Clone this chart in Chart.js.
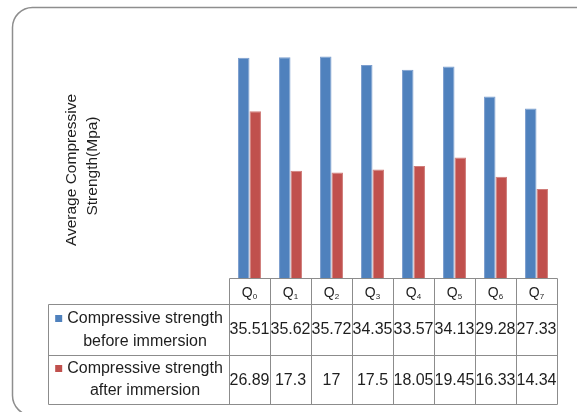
<!DOCTYPE html>
<html>
<head>
<meta charset="utf-8">
<script src="https://cdn.jsdelivr.net/npm/chart.js@4/dist/chart.umd.min.js"></script>
<style>
html,body{margin:0;padding:0;background:#fff;}
canvas{display:block;}
</style>
</head>
<body>
<canvas id="c" width="577" height="412"></canvas>
<script>
const categories = ['Q0','Q1','Q2','Q3','Q4','Q5','Q6','Q7'];
const beforeValues = [35.51, 35.62, 35.72, 34.35, 33.57, 34.13, 29.28, 27.33];
const afterValues = [26.89, 17.3, 17, 17.5, 18.05, 19.45, 16.33, 14.34];
const beforeLabels = ['35.51','35.62','35.72','34.35','33.57','34.13','29.28','27.33'];
const afterLabels = ['26.89','17.3','17','17.5','18.05','19.45','16.33','14.34'];
const seriesNames = [['Compressive strength','before immersion'],['Compressive strength','after immersion']];
const yTitleLines = ['Average Compressive','Strength(Mpa)'];

const BLUE = '#4F81BD', RED = '#C0504D';
const TEXT = '#1e1e1e', GRID = '#8c8c8c';
const FONT = '"Liberation Sans", Arial, sans-serif';

const tablePlugin = {
  id: 'excelTable',
  afterDraw(chart) {
    const ctx = chart.ctx;
    const x = chart.scales.x;
    const ca = chart.chartArea;
    const n = categories.length;
    const colW = (ca.right - ca.left) / n;
    const hTop = ca.bottom + 0.5, hBot = 304.5, r1Bot = 355.5, r2Bot = 404.5;
    const labLeft = 48.5;
    ctx.save();
    // outer frame
    ctx.strokeStyle = '#8e8e8e';
    ctx.lineWidth = 1.5;
    ctx.beginPath();
    ctx.roundRect(12.5, 7.5, 600, 408, 20);
    ctx.stroke();

    // table lines
    ctx.strokeStyle = GRID;
    ctx.lineWidth = 1;
    ctx.beginPath();
    const L = Math.round(ca.left) + 0.5, R = Math.round(ca.right) + 0.5;
    ctx.moveTo(L, hTop); ctx.lineTo(R, hTop);
    ctx.moveTo(labLeft, hBot); ctx.lineTo(R, hBot);
    ctx.moveTo(labLeft, r1Bot); ctx.lineTo(R, r1Bot);
    ctx.moveTo(labLeft, r2Bot); ctx.lineTo(R, r2Bot);
    ctx.moveTo(labLeft, hBot); ctx.lineTo(labLeft, r2Bot);
    for (let i = 0; i <= n; i++) {
      const px = Math.round(ca.left + i * colW) + 0.5;
      ctx.moveTo(px, hTop); ctx.lineTo(px, r2Bot);
    }
    ctx.stroke();

    // header labels with subscripts
    ctx.fillStyle = TEXT;
    ctx.textBaseline = 'alphabetic';
    for (let i = 0; i < n; i++) {
      const cx = x.getPixelForValue(i);
      const base = categories[i].charAt(0), sub = categories[i].slice(1);
      ctx.font = '14px ' + FONT;
      const wb = ctx.measureText(base).width;
      ctx.font = '8px ' + FONT;
      const ws = ctx.measureText(sub).width;
      const sx = cx - (wb + ws) / 2;
      ctx.font = '14px ' + FONT;
      ctx.textAlign = 'left';
      ctx.fillText(base, sx, 297);
      ctx.font = '8px ' + FONT;
      ctx.fillText(sub, sx + wb, 299);
    }

    // values
    ctx.font = '16px ' + FONT;
    ctx.textAlign = 'center';
    ctx.textBaseline = 'middle';
    for (let i = 0; i < n; i++) {
      const cx = x.getPixelForValue(i);
      ctx.fillText(beforeLabels[i], cx, 330);
      ctx.fillText(afterLabels[i], cx, 381);
    }

    // row labels
    const rowMid = [[319, 342], [369, 391]];
    const cols = [BLUE, RED];
    const cellC = (labLeft + L) / 2;
    for (let r = 0; r < 2; r++) {
      ctx.font = '16px ' + FONT;
      const w1 = ctx.measureText(seriesNames[r][0]).width;
      const block = 7 + 5 + w1;
      const start = cellC - block / 2;
      ctx.fillStyle = cols[r];
      ctx.fillRect(start, rowMid[r][0] - 4, 7, 7);
      ctx.fillStyle = TEXT;
      ctx.textAlign = 'left';
      ctx.fillText(seriesNames[r][0], start + 12, rowMid[r][0]);
      ctx.textAlign = 'center';
      ctx.fillText(seriesNames[r][1], start + 12 + w1 / 2, rowMid[r][1]);
    }

    // y axis title
    ctx.translate(82, 170);
    ctx.rotate(-Math.PI / 2);
    ctx.font = '15.5px ' + FONT;
    ctx.textAlign = 'center';
    ctx.textBaseline = 'middle';
    ctx.fillText(yTitleLines[0], 0, -10);
    ctx.fillText(yTitleLines[1], 4, 11);
    ctx.restore();
  }
};

new Chart(document.getElementById('c'), {
  type: 'bar',
  data: {
    labels: categories,
    datasets: [
      { label: seriesNames[0].join(' '), data: beforeValues, backgroundColor: BLUE, borderColor: '#7d9fcf', borderWidth: 1 },
      { label: seriesNames[1].join(' '), data: afterValues, backgroundColor: RED, borderColor: '#d07d7a', borderWidth: 1 }
    ]
  },
  options: {
    responsive: false,
    animation: false,
    devicePixelRatio: 1,
    layout: { padding: { left: 229, right: 20, top: 30, bottom: 134 } },
    datasets: { bar: { categoryPercentage: 0.56, barPercentage: 1 } },
    plugins: { legend: { display: false }, tooltip: { enabled: false } },
    scales: {
      x: { display: false },
      y: { display: false, min: 0, max: 40 }
    }
  },
  plugins: [tablePlugin]
});
</script>
</body>
</html>
